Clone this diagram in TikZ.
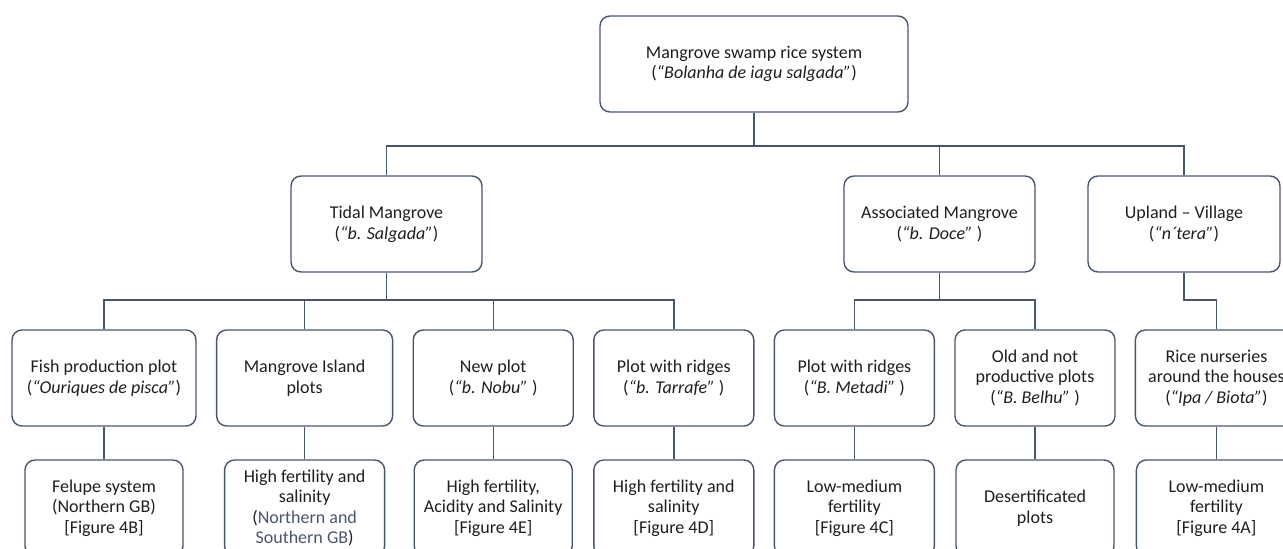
\documentclass[tikz,border=0pt]{standalone}
\usepackage{fontspec}
\setmainfont{Carlito}
\usetikzlibrary{positioning}
\definecolor{linegray}{RGB}{72,86,108}
\definecolor{textgray}{RGB}{30,30,30}

\begin{document}
\begin{tikzpicture}[x=0.5pt, y=0.5pt, node distance={65pt},
  main/.style = {draw=linegray, line width=0.7pt, rounded corners=5pt, align=center, minimum height=48pt, inner sep=1pt, font=\fontsize{9}{10.3}\selectfont, text=textgray},
  link/.style = {draw=linegray, line width=0.7pt}]
\useasboundingbox (0,0) rectangle (1283,-549);
\clip (0,0) rectangle (1283,-549);
% top and second level
\node[main, minimum width=154pt] (1) at (754,-64) {Mangrove swamp rice system\\(\textit{“Bolanha de iagu salgada”})};
\node[main, minimum width=95.5pt] (2) at (386.5,-224) {Tidal Mangrove\\(\textit{“b. Salgada”})};
\node[main, minimum width=95.5pt] (3) at (939.5,-224) {Associated Mangrove\\(\textit{“b. Doce”} )};
\node[main, minimum width=96pt] (4) at (1184,-224) {Upland – Village\\(\textit{“n´tera”})};
% plots
\node[main, minimum width=92pt] (5) at (104,-378) {Fish production plot\\(\textit{“Ouriques de pisca”})};
\node[main, minimum width=88pt] (6) [right=9.6pt of 5] {Mangrove Island\\plots};
\node[main, minimum width=80pt] (7) [right=9.6pt of 6] {New plot\\(\textit{“b. Nobu”} )};
\node[main, minimum width=80pt] (8) [right=9.6pt of 7] {Plot with ridges\\(\textit{“b. Tarrafe”} )};
\node[main, minimum width=80pt] (9) [right=9.6pt of 8] {Plot with ridges\\(\textit{“B. Metadi”} )};
\node[main, minimum width=80pt] (10) [right=9.6pt of 9] {Old and not\\productive plots\\(\textit{“B. Belhu”} )};
\node[main, minimum width=81pt] (11) [right=9.5pt of 10] {Rice nurseries\\around the houses\\(\textit{“Ipa / Biota”})};
% features
\node[main, minimum width=79pt] (12) [below of=5] {Felupe system\\(Northern GB)\\{}[Figure 4B]};
\node[main, minimum width=80pt] (13) [below of=6] {High fertility and\\salinity\\(\textcolor{linegray}{Northern and}\\\textcolor{linegray}{Southern GB})};
\node[main, minimum width=79pt] (14) [below of=7] {High fertility,\\Acidity and Salinity\\{}[Figure 4E]};
\node[main, minimum width=80pt] (15) [below of=8] {High fertility and\\salinity\\{}[Figure 4D]};
\node[main, minimum width=80pt] (16) [below of=9] {Low-medium\\fertility\\{}[Figure 4C]};
\node[main, minimum width=79pt] (17) [below of=10] {Desertificated\\plots};
\node[main, minimum width=80pt] (18) [below of=11] {Low-medium\\fertility\\{}[Figure 4A]};
% connectors
\coordinate (a) at (754,-146);
\coordinate (b) at (386.5,-300);
\coordinate (c) at (939.5,-300);
\draw[link] (1) -- (a);
\draw[link] (2) |- (a) -| (4);
\draw[link] (3) -- (3 |- a);
\draw[link] (2) -- (b);
\draw[link] (5) |- (b) -| (8);
\draw[link] (6) -- (6 |- b);
\draw[link] (7) -- (7 |- b);
\draw[link] (3) -- (c);
\draw[link] (9) |- (c) -| (10);
\draw[link] (4) -- (4 |- c) -| (11);
\draw[link] (5) -- (12);
\draw[link] (6) -- (13);
\draw[link] (7) -- (14);
\draw[link] (8) -- (15);
\draw[link] (9) -- (16);
\draw[link] (10) -- (17);
\draw[link] (11) -- (18);
\end{tikzpicture}
\end{document}
